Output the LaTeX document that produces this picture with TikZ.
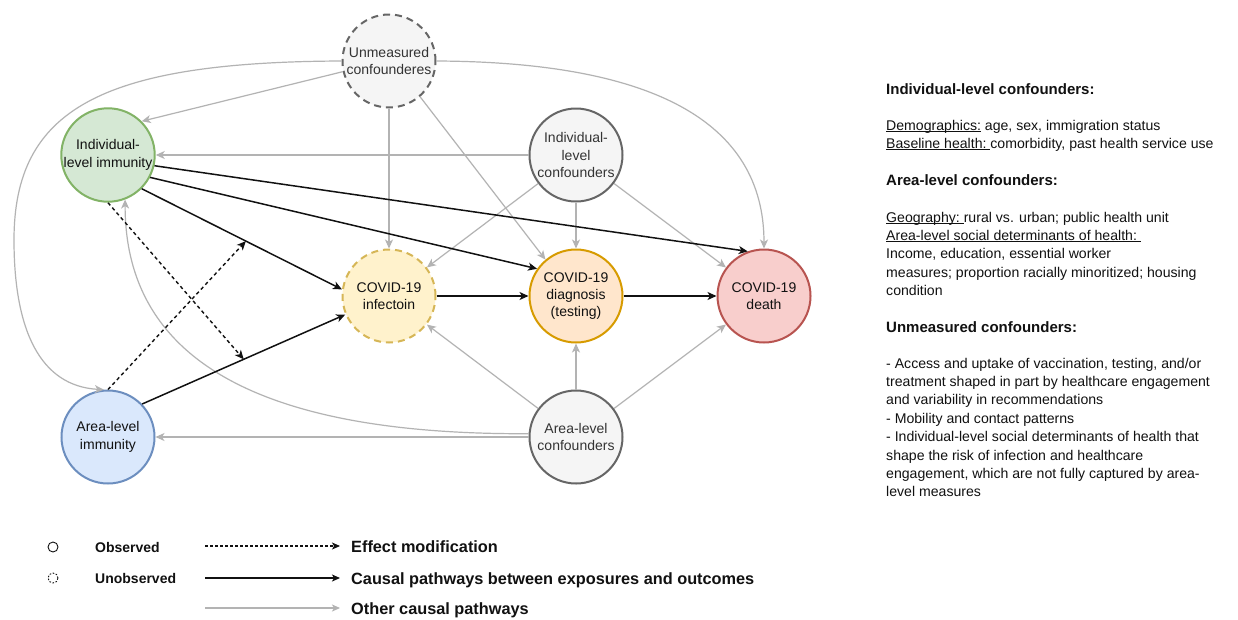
\documentclass[tikz,border=0pt]{standalone}
\usepackage{fontspec}
\setmainfont{Liberation Sans}
\usetikzlibrary{arrows.meta}
\definecolor{cgrayd}{HTML}{666666}
\definecolor{cgrayf}{HTML}{F5F5F5}
\definecolor{ctxt}{HTML}{333333}
\definecolor{cgreend}{HTML}{82B366}
\definecolor{cgreenf}{HTML}{D5E8D4}
\definecolor{cblued}{HTML}{6C8EBF}
\definecolor{cbluef}{HTML}{DAE8FC}
\definecolor{cyeld}{HTML}{D6B656}
\definecolor{cyelf}{HTML}{FFF2CC}
\definecolor{corad}{HTML}{D79B00}
\definecolor{coraf}{HTML}{FFE6CC}
\definecolor{creddd}{HTML}{B85450}
\definecolor{credf}{HTML}{F8CECC}
\definecolor{cedge}{HTML}{B3B3B3}
\definecolor{cink}{HTML}{111111}
\newcommand\myul[1]{\setbox0=\hbox{#1}\rlap{\rule[-1.7pt]{\wd0}{0.8pt}}\box0\relax}
\tikzset{
  nd/.style={circle, minimum size=93pt, inner sep=0pt, line width=2pt, align=center,
    font=\fontsize{14}{17.3}\selectfont, text=cink},
  graynd/.style={nd, draw=cgrayd, fill=cgrayf, text=ctxt},
  garr/.style={draw=cedge, line width=1.2pt, -{Stealth[length=9pt,width=8pt,inset=2.5pt]}},
  barr/.style={draw=cink, line width=1.5pt, -{Stealth[length=9pt,width=8pt,inset=2.5pt]}},
  darr/.style={draw=cink, line width=1.4pt, dash pattern=on 3.5pt off 3pt, -{Stealth[length=9pt,width=8pt,inset=2.5pt]}},
  rtxt/.style={anchor=base west, inner sep=0pt, font=\fontsize{14.1}{18}\selectfont, text=cink},
  rhead/.style={rtxt, font=\fontsize{15}{18}\selectfont\bfseries},
  legsm/.style={anchor=base west, inner sep=0pt, font=\fontsize{14}{16}\selectfont\bfseries, text=cink},
  legbg/.style={anchor=base west, inner sep=0pt, font=\fontsize{16.3}{18}\selectfont\bfseries, text=cink}
}
\begin{document}
\begin{tikzpicture}[x=1pt,y=-1pt]
\useasboundingbox[fill=white] (0,0) rectangle (1238,619);

% nodes
\node[graynd, dash pattern=on 7pt off 5pt] (um) at (389,61) {Unmeasured\\confounderes};
\node[nd, draw=cgreend, fill=cgreenf] (ii) at (108,155) {Individual-\\level immunity};
\node[graynd] (ic) at (576,155) {Individual-\\level\\confounders};
\node[nd, draw=cyeld, fill=cyelf, dash pattern=on 7pt off 5pt] (inf) at (389,296) {COVID-19\\infectoin};
\node[nd, draw=corad, fill=coraf] (dx) at (576,296) {COVID-19\\diagnosis\\(testing)};
\node[nd, draw=creddd, fill=credf] (dth) at (764,296) {COVID-19\\death};
\node[nd, draw=cblued, fill=cbluef] (ai) at (108,437) {Area-level\\immunity};
\node[graynd] (ac) at (576,437) {Area-level\\confounders};

% gray pathways
\draw[garr] (um.193) -- (ii.45);
\draw[garr] (um.west) .. controls (100,62) and (14,110) .. (14,240) coordinate (bend1)
   .. controls (14,330) and (40,386) .. (ai.95);
\draw[garr] (um.south) -- (inf.north);
\draw[garr] (um.-49) -- (dx.130);
\draw[garr] (um.east) .. controls (650,62) and (764,120) .. (dth.north);
\draw[garr] (ic) -- (ii);
\draw[garr] (ic) -- (inf);
\draw[garr] (ic.south) -- (dx.north);
\draw[garr] (ic) -- (dth);
\draw[garr] (ac) -- (inf);
\draw[garr] (ac.north) -- (dx.south);
\draw[garr] (ac) -- (dth);
\draw[garr] (ac) -- (ai);
\draw[garr] (ac.176) .. controls (260,435) and (125,360) .. (ii.-69);

% causal pathways
\draw[barr] (ii.-45) -- coordinate[pos=0.52] (m1) (inf.172);
\draw[barr] (ii.-28) -- (dx.145);
\draw[barr] (ii.-13) -- (dth.110);
\draw[barr] (ai.44) -- coordinate[pos=0.5] (m2) (inf.203);
\draw[barr] (inf) -- (dx);
\draw[barr] (dx) -- (dth);

% effect modification
\draw[darr] (ai.north) -- (m1);
\draw[darr] (ii.south) -- (m2);

% right-hand text
\node[rhead] (t1) at (886,94) {Individual-level confounders:};
\node[rtxt] (t2) at (886,130) {\myul{Demographics:} age, sex, immigration status};
\node[rtxt] (t3) at (886,148.4) {\myul{Baseline health:\ }comorbidity, past health service use};
\node[rhead] (t4) at (886,185.5) {Area-level confounders:};
\node[rtxt] (t5) at (886,222) {\myul{Geography:\ }rural vs. urban; public health unit};
\node[rtxt] (t6) at (886,240.4) {\myul{Area-level social determinants of health:\ }};
\node[rtxt] (t7) at (886,258.8) {Income, education, essential worker};
\node[rtxt] (t8) at (886,277.2) {measures; proportion racially minoritized; housing};
\node[rtxt] (t9) at (886,295.6) {condition};
\node[rhead] (t10) at (886,332) {Unmeasured confounders:};
\node[rtxt] (t11) at (886,368) {- Access and uptake of vaccination, testing, and/or};
\node[rtxt] (t12) at (886,386.4) {treatment shaped in part by healthcare engagement};
\node[rtxt] (t13) at (886,404.8) {and variability in recommendations};
\node[rtxt] (t14) at (886,423.2) {- Mobility and contact patterns};
\node[rtxt] (t15) at (886,441.6) {- Individual-level social determinants of health that};
\node[rtxt] (t16) at (886,460) {shape the risk of infection and healthcare};
\node[rtxt] (t17) at (886,478.4) {engagement, which are not fully captured by area-};
\node[rtxt] (t18) at (886,496.8) {level measures};

% legend
\node[circle, draw=cink, line width=0.9pt, minimum size=10pt, inner sep=0pt] (lobs) at (53,547) {};
\node[circle, draw=cink, line width=0.9pt, dash pattern=on 1.6pt off 1.6pt, minimum size=10pt, inner sep=0pt] (lunobs) at (53,578) {};
\node[legsm] (lobst) at (95,552) {Observed};
\node[legsm] (lunobst) at (95,583) {Unobserved};
\coordinate (la1) at (205,546); \coordinate (lb1) at (340,546);
\coordinate (la2) at (205,578); \coordinate (lb2) at (340,578);
\coordinate (la3) at (205,608); \coordinate (lb3) at (340,608);
\draw[draw=cink, line width=1.1pt, dash pattern=on 2.5pt off 2.5pt, -{Stealth[length=8pt,width=7pt,inset=2pt]}] (la1) -- (lb1);
\draw[draw=cink, line width=1.5pt, -{Stealth[length=8pt,width=7pt,inset=2pt]}] (la2) -- (lb2);
\draw[draw=cedge, line width=1.2pt, -{Stealth[length=8pt,width=7pt,inset=2pt]}] (la3) -- (lb3);
\node[legbg] (le1) at (351,552) {Effect modification};
\node[legbg] (le2) at (351,584) {Causal pathways between exposures and outcomes};
\node[legbg] (le3) at (351,614) {Other causal pathways};
\end{tikzpicture}
\end{document}
